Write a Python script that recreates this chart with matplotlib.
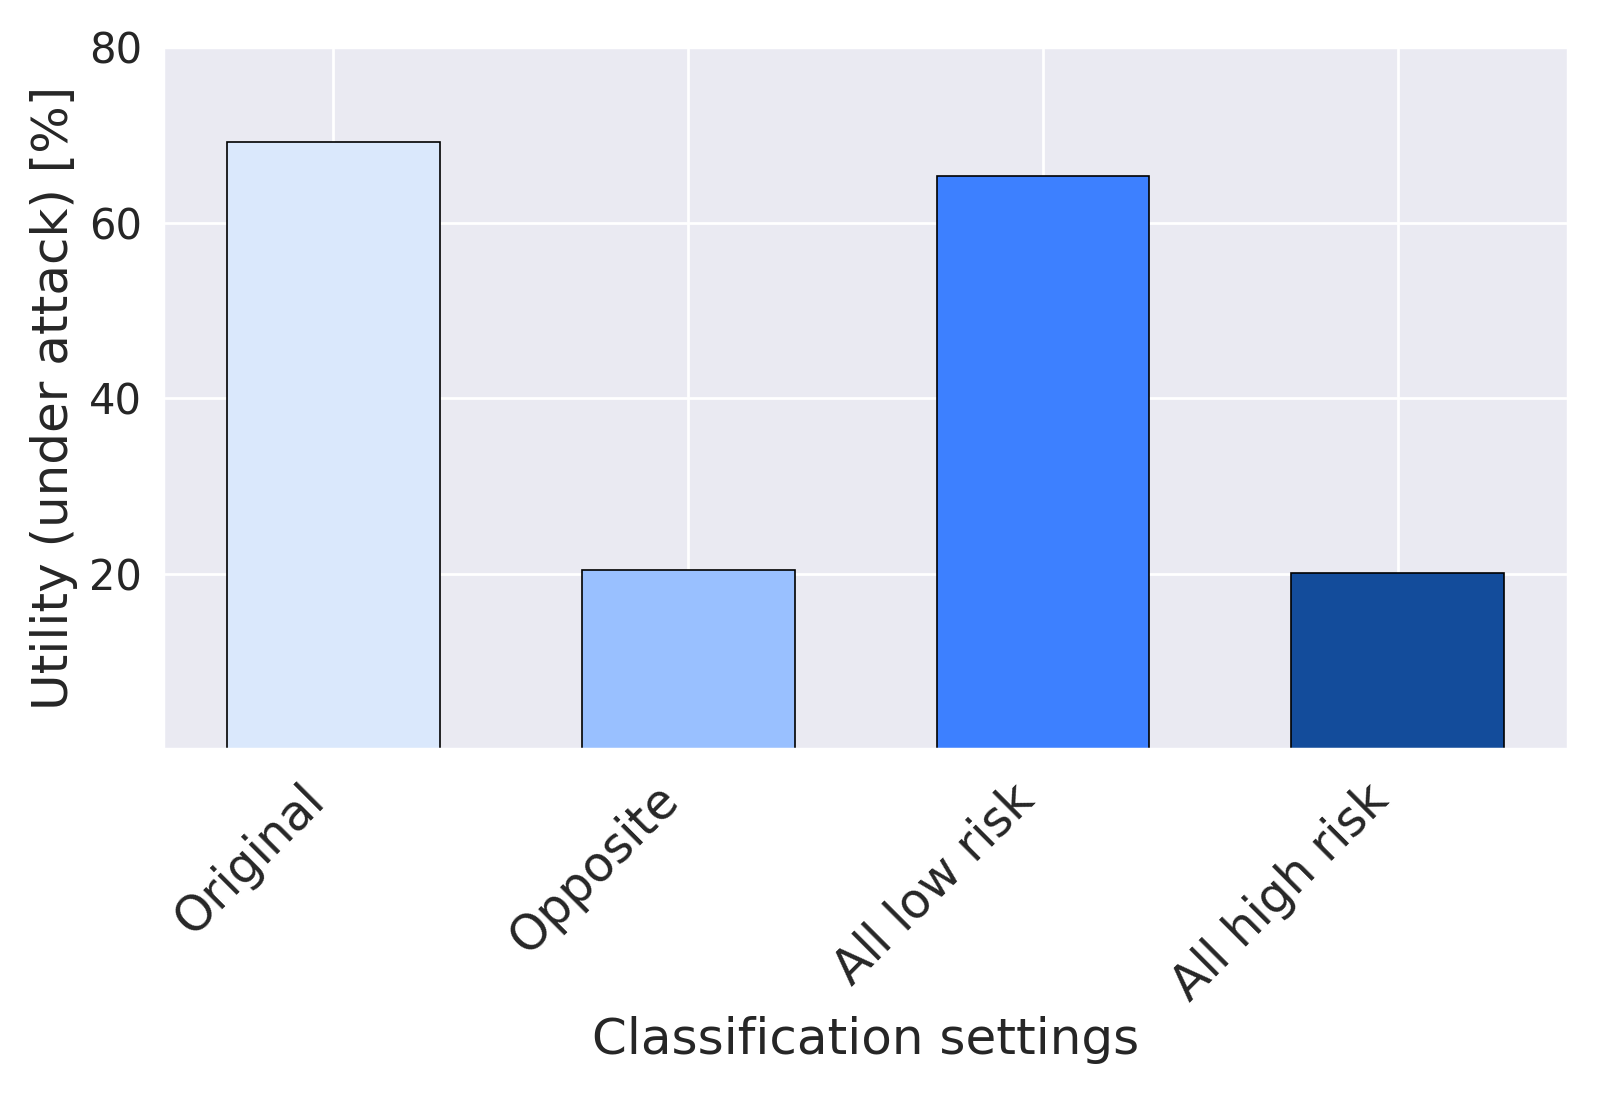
import matplotlib
matplotlib.use("Agg")
import matplotlib.pyplot as plt
import seaborn as sns

categories = ["Original", "Opposite", "All low risk", "All high risk"]
utility = [69.2, 20.4, 65.3, 20.1]
colors = ["#dae8fc", "#99c0ff", "#3d80ff", "#134c9b"]

sns.set_theme(style="darkgrid")
plt.rcParams['font.family'] = ['DejaVu Sans']

fig, ax = plt.subplots(figsize=(8, 5.5), dpi=200)
ax.bar(categories, utility, width=0.6, color=colors, edgecolor="black", linewidth=0.6)

ax.set_ylim(0, 80)
ax.set_yticks([20, 40, 60, 80])
ax.tick_params(axis="y", labelsize=15, pad=1.5)
ax.tick_params(axis="x", labelsize=17.5)
plt.setp(ax.get_xticklabels(), rotation=45, ha="right")
ax.set_ylabel("Utility (under attack) [%]", fontsize=18)
ax.set_xlabel("Classification settings", fontsize=18, labelpad=2)

fig.subplots_adjust(left=0.102, right=0.98, top=0.957, bottom=0.319)
fig.savefig("out.png")
